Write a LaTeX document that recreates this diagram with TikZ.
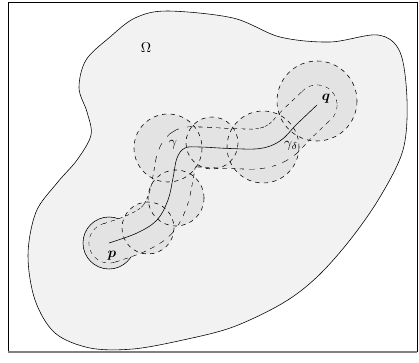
\documentclass[tikz,border=0pt]{standalone}
\usepackage{amsmath}
\usetikzlibrary{calc}

\colorlet{omegafill}{gray!10}
\colorlet{ballfill}{black!11}

% 曲線γ
\newcommand{\curvegamma}{plot[smooth, tension=0.6] coordinates {(109,243) (137,233) (157,220) (168,200) (173,178) (177,158) (185,148) (200,147) (230,148.5) (260,148.5) (280,141) (297,124) (317,105)}}

\begin{document}
\begin{tikzpicture}[x=0.7pt, y=-0.7pt]

    \useasboundingbox (0,0) rectangle (419,362);

    % 枠
    \draw (8,352) -- (8,2) -- (417,2) -- (417,352);
    \draw[gray, line width=1pt] (8,352) -- (417,352);

    % 領域Ω
    \draw[fill=omegafill] plot[smooth cycle, tension=0.55] coordinates {
        (167,11) (233,18) (280,37) (330,42) (378,35) (400,52) (407,100)
        (403,150) (380,197) (350,240) (317,277) (283,303) (233,327)
        (183,340) (133,349) (90,348) (55,333) (35,300) (28,255) (36,212)
        (57,183) (77,160) (91,135) (87,112) (79,88) (86,60) (110,37) (135,18)};

    % 端点 p, q
    \coordinate (P) at (109,243);
    \coordinate (Q) at (317,105);

    % 球の中心
    \coordinate (B2) at (148,228);
    \coordinate (B3) at (176,198);
    \coordinate (B4) at (168,148);
    \coordinate (B5) at (212,143);
    \coordinate (B6) at (263,147);
    \coordinate (B7) at (317,101);

    % pの球 (実線)
    \filldraw[fill=ballfill] (P) circle (26);

    % 球の塗り
    \fill[ballfill] (B2) circle (26);
    \fill[ballfill] (B3) circle (28);
    \fill[ballfill] (B4) circle (34);
    \fill[ballfill] (B5) circle (26);
    \fill[ballfill] (B6) circle (36);
    \fill[ballfill] (B7) circle (40);

    % 管状近傍 γ_δ
    \draw[dashed, line width=28.4pt] \curvegamma;
    \draw[dashed] (P) circle (20);
    \draw[dashed] (Q) circle (20);
    \draw[ballfill, line width=27.6pt, line cap=round] \curvegamma;

    % 球の境界 (破線)
    \draw[dashed] (B2) circle (26);
    \draw[dashed] (B3) circle (28);
    \draw[dashed] (B4) circle (34);
    \draw[dashed] (B5) circle (26);
    \draw[dashed] (B6) circle (36);
    \draw[dashed] (B7) circle (40);

    % 曲線γ
    \draw \curvegamma;

    % ラベル
    \node (omega) at (146,48) {$\Omega$};
    \node (gam) at (173,145) {$\gamma$};
    \node (gamd) at (291,146) {$\gamma_\delta$};
    \node (q) at (326,99) {$\boldsymbol{q}$};
    \node (p) at (112,256) {$\boldsymbol{p}$};

\end{tikzpicture}
\end{document}
